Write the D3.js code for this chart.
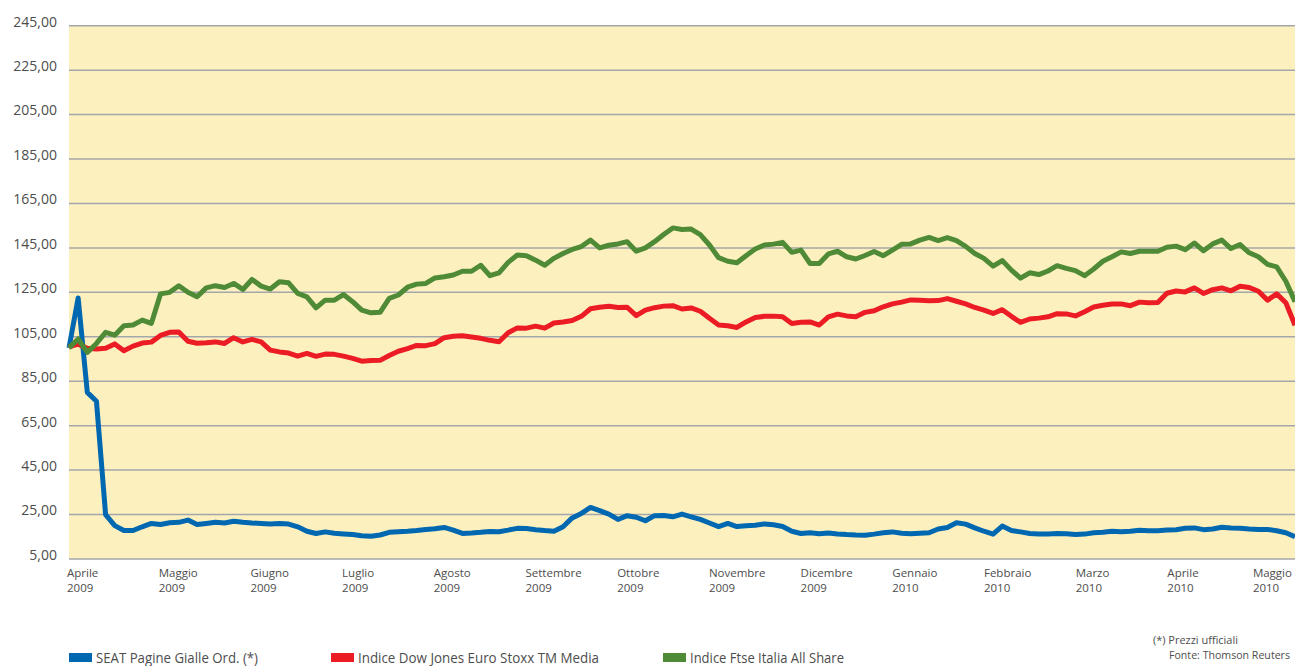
<!DOCTYPE html>
<html>
<head>
<meta charset="utf-8">
<script src="https://cdn.jsdelivr.net/npm/d3@7"></script>
<style>
  body { margin: 0; background: #fff; }
  svg { display: block; }
  text { font-family: "Open Sans", "Noto Sans", sans-serif; fill: #4d4d4d; }
</style>
</head>
<body>
<svg width="1295" height="666"></svg>
<script>
// month labels (equally spaced on the axis)
const monthNames = ['Aprile', 'Maggio', 'Giugno', 'Luglio', 'Agosto', 'Settembre', 'Ottobre',
  'Novembre', 'Dicembre', 'Gennaio', 'Febbraio', 'Marzo', 'Aprile', 'Maggio'];
const monthYears = ['2009', '2009', '2009', '2009', '2009', '2009', '2009',
  '2009', '2009', '2010', '2010', '2010', '2010', '2010'];
const yTicks = [5, 25, 45, 65, 85, 105, 125, 145, 165, 185, 205, 225, 245];

// series, base 100 at start, sampled about every 0.1 month
const seat = [100, 122.5, 80, 76, 25, 20, 17.8, 17.8, 19.5, 21, 20.5, 21.3, 21.5, 22.5, 20.5, 21, 21.5, 21.2, 22, 21.5,
  21.2, 21, 20.8, 21, 20.7, 19.5, 17.5, 16.5, 17.2, 16.6, 16.3, 16, 15.5, 15.2, 15.8, 17, 17.3, 17.5, 17.8, 18.3,
  18.6, 19.2, 18, 16.5, 16.7, 17, 17.4, 17.3, 18, 18.8, 18.7, 18.2, 17.8, 17.5, 19.5, 23.5, 25.5, 28.2, 26.8, 25.2,
  22.8, 24.5, 23.8, 22.2, 24.5, 24.6, 24, 25.2, 24, 22.8, 21.2, 19.6, 21, 19.6, 20, 20.2, 20.8, 20.4, 19.6, 17.5,
  16.5, 16.8, 16.4, 16.7, 16.3, 16, 15.8, 15.7, 16.2, 16.8, 17.2, 16.6, 16.4, 16.6, 16.8, 18.5, 19.2, 21.3, 20.7, 19,
  17.5, 16.2, 19.8, 17.8, 17.2, 16.5, 16.2, 16.3, 16.5, 16.4, 16, 16.2, 16.8, 17, 17.5, 17.3, 17.5, 17.9, 17.7, 17.7,
  18, 18.2, 18.8, 19, 18.2, 18.5, 19.3, 19, 18.8, 18.5, 18.3, 18.3, 17.7, 16.8, 15];
const djMedia = [100.5, 101.7, 99.8, 99.5, 99.8, 101.8, 98.7, 100.8, 102.2, 102.6, 105.6, 107, 107.2, 103, 102.1, 102.3, 102.7, 102, 104.6, 102.7,
  103.8, 102.7, 99, 98.2, 97.7, 96.3, 97.5, 96.2, 97.2, 97.1, 96.3, 95.3, 94, 94.3, 94.4, 96.6, 98.5, 99.7, 101.1, 101,
  101.9, 104.6, 105.2, 105.5, 104.9, 104.3, 103.4, 102.8, 106.8, 109, 108.9, 109.8, 108.9, 111.2, 111.7, 112.3, 114.2, 117.6, 118.3, 118.7,
  118.2, 118.3, 114.5, 117, 118.1, 118.8, 119, 117.5, 118, 116.5, 113.3, 110.3, 110, 109.2, 111.7, 113.7, 114.2, 114.3, 114, 111,
  111.5, 111.7, 110.3, 114, 115.2, 114.4, 114, 116, 116.7, 118.5, 119.8, 120.6, 121.6, 121.4, 121.2, 121.3, 122.2, 121, 119.8, 118.2,
  117, 115.5, 117.2, 114.2, 111.5, 113, 113.4, 114, 115.4, 115.3, 114.4, 116.3, 118.4, 119.2, 119.8, 119.8, 119, 120.6, 120.3, 120.4,
  124.6, 125.6, 125.2, 127, 124.5, 126.2, 127, 125.7, 127.7, 127.2, 125.5, 121.5, 124.3, 120.3, 110.2];
const ftseItalia = [100, 104, 98, 102, 107, 105.7, 110, 110.3, 112.5, 111, 124.3, 125, 128, 125, 123, 127, 128, 127.2, 129, 126.3,
  130.8, 127.8, 126.5, 129.8, 129.3, 124.5, 123, 118, 121.5, 121.5, 124, 120.8, 117, 115.8, 116, 122.3, 123.8, 127.3, 128.7, 129,
  131.5, 132, 132.8, 134.5, 134.5, 137.2, 132.5, 133.8, 138.5, 141.8, 141.5, 139.5, 137.2, 140.3, 142.5, 144.3, 145.6, 148.5, 145, 146.2,
  146.8, 147.8, 143.5, 145, 147.8, 151, 154, 153.3, 153.5, 151, 146.3, 140.6, 139, 138.3, 141.5, 144.5, 146.3, 146.7, 147.5, 143,
  144, 138, 138, 142.3, 143.5, 141, 140, 141.6, 143.4, 141.5, 144, 146.6, 146.8, 148.5, 149.7, 148.3, 149.6, 148.3, 145.7, 142.5,
  140.3, 136.8, 139.3, 135, 131.4, 133.8, 133, 134.6, 137, 135.8, 134.8, 132.5, 135.5, 139, 141, 143.2, 142.5, 143.5, 143.5, 143.5,
  145.3, 145.8, 144.2, 147.2, 143.7, 146.8, 148.5, 144.7, 146.5, 142.8, 141, 137.6, 136.5, 130, 120.8];

const series = [
  { name: 'SEAT Pagine Gialle Ord. (*)', values: seat, color: '#0067b1' },
  { name: 'Indice Dow Jones Euro Stoxx TM Media', values: djMedia, color: '#ec1c24' },
  { name: 'Indice Ftse Italia All Share', values: ftseItalia, color: '#4f8a36' }
];

const svg = d3.select('svg');
const plotLeft = 69, plotRight = 1295, plotTop = 25.7, plotBottom = 559;
const lastMonth = 13.37; // data runs into mid May 2010

const x = d3.scaleLinear().domain([0, lastMonth]).range([plotLeft, plotRight]);
const y = d3.scaleLinear().domain([5, 245]).range([plotBottom, plotTop]);
const step = lastMonth / (seat.length - 1);

svg.append('rect')
  .attr('x', plotLeft).attr('y', plotTop)
  .attr('width', plotRight - plotLeft).attr('height', plotBottom - plotTop)
  .attr('fill', '#fdf0bf');

// gridlines
svg.append('g').selectAll('line')
  .data(yTicks)
  .enter().append('line')
  .attr('x1', plotLeft).attr('x2', plotRight)
  .attr('y1', d => y(d)).attr('y2', d => y(d))
  .attr('stroke', '#a3a6aa')
  .attr('stroke-width', 1.5);

svg.append('g').selectAll('text')
  .data(yTicks)
  .enter().append('text')
  .attr('x', 57)
  .attr('y', d => y(d) - 4)
  .attr('dy', '0.35em')
  .attr('text-anchor', 'end')
  .style('font-size', '14px')
  .text(d => d3.format('.2f')(d).replace('.', ','));

// month labels, two lines each; the last one is kept inside the plot
const monthG = svg.append('g').selectAll('g')
  .data(monthNames)
  .enter().append('g');
monthG.append('text')
  .attr('y', 577)
  .style('font-size', '11.5px')
  .text(d => d);
monthG.append('text')
  .attr('y', 592)
  .style('font-size', '11.5px')
  .text((d, i) => monthYears[i]);
monthG.each(function (d, i) {
  const w = this.getBBox().width;
  const lx = Math.min(x(i) - 2, plotRight - w - 3);
  d3.select(this).selectAll('text').attr('x', lx);
});

const line = d3.line()
  .x((d, i) => x(i * step))
  .y(d => y(d));

svg.append('g').selectAll('path')
  .data(series)
  .enter().append('path')
  .attr('d', d => line(d.values))
  .attr('fill', 'none')
  .attr('stroke', d => d.color)
  .attr('stroke-width', 5)
  .attr('stroke-linejoin', 'round');

// legend (condensed look via textLength)
const legendX = [69, 331, 663];
const legendW = [162, 241, 154];
const legend = svg.append('g').selectAll('g')
  .data(series)
  .enter().append('g')
  .attr('transform', (d, i) => 'translate(' + legendX[i] + ',653)');
legend.append('rect')
  .attr('width', 23).attr('height', 9)
  .attr('fill', d => d.color);
legend.append('text')
  .attr('x', 27).attr('y', 5)
  .attr('dy', '0.35em')
  .style('font-size', '14.5px')
  .attr('textLength', (d, i) => legendW[i])
  .attr('lengthAdjust', 'spacingAndGlyphs')
  .text(d => d.name);

svg.append('text')
  .attr('x', 1153).attr('y', 644)
  .style('font-size', '10.5px')
  .attr('textLength', 85)
  .attr('lengthAdjust', 'spacingAndGlyphs')
  .text('(*) Prezzi ufficiali');
svg.append('text')
  .attr('x', 1169).attr('y', 659)
  .style('font-size', '10.5px')
  .attr('textLength', 121)
  .attr('lengthAdjust', 'spacingAndGlyphs')
  .text('Fonte: Thomson Reuters');
</script>
</body>
</html>
